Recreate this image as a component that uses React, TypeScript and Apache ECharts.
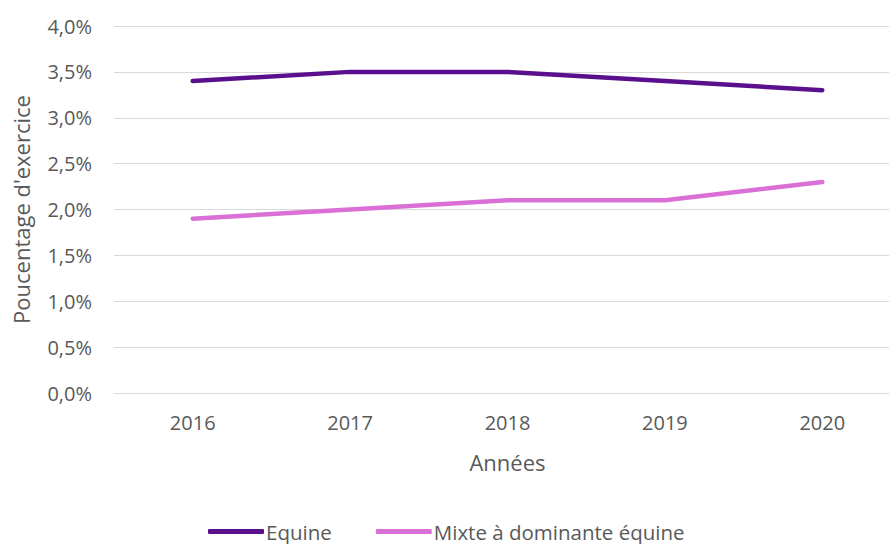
import React, { useEffect, useRef } from "react";
import * as echarts from "echarts";

const years = ["2016", "2017", "2018", "2019", "2020"];
const equine = [3.4, 3.5, 3.5, 3.4, 3.3];
const mixte = [1.9, 2.0, 2.1, 2.1, 2.3];
const seriesNames = ["Equine", "Mixte à dominante équine"];

const FONT = "Open Sans";
const TXT = "#595959";

export default function App() {
  const ref = useRef<HTMLDivElement>(null);
  useEffect(() => {
    if (!ref.current) return;
    const chart = echarts.init(ref.current, null, { renderer: "svg" });
    chart.setOption({
      animation: false,
      textStyle: { fontFamily: FONT },
      grid: {
        left: 114,
        right: -12,
        top: 26,
        bottom: 151,
        containLabel: false,
        outerBoundsMode: "none",
      },
      legend: {
        bottom: -3,
        left: 203,
        icon: "roundRect",
        itemWidth: 56,
        itemHeight: 5,
        itemGap: 44,
        textStyle: { fontFamily: FONT, fontSize: 20.5, color: TXT, padding: [0, 0, 0, -3] },
        data: seriesNames,
      },
      xAxis: {
        type: "category",
        data: years,
        boundaryGap: true,
        name: "Années",
        nameLocation: "middle",
        nameGap: 58,
        nameTextStyle: { fontFamily: FONT, fontSize: 22, color: TXT },
        axisLine: { show: true, lineStyle: { color: "#d9d9d9", width: 1 } },
        axisTick: { show: false },
        axisLabel: { fontFamily: FONT, fontSize: 20, color: TXT, margin: 19 },
      },
      yAxis: {
        type: "value",
        min: 0,
        max: 4,
        interval: 0.5,
        name: "Poucentage d'exercice",
        nameLocation: "middle",
        nameGap: 82,
        nameTextStyle: { fontFamily: FONT, fontSize: 22, color: TXT },
        axisLine: { show: false },
        axisTick: { show: false },
        axisLabel: {
          fontFamily: FONT,
          fontSize: 20,
          color: TXT,
          margin: 22,
          formatter: (v: number) => v.toFixed(1).replace(".", ",") + "%",
        },
        splitLine: { lineStyle: { color: "#d9d9d9", width: 1 } },
      },
      series: [
        {
          name: seriesNames[0],
          type: "line",
          data: equine,
          symbol: "none",
          lineStyle: { color: "#5a0f8c", width: 4.5, cap: "round" },
          itemStyle: { color: "#5a0f8c" },
        },
        {
          name: seriesNames[1],
          type: "line",
          data: mixte,
          symbol: "none",
          lineStyle: { color: "#da70d6", width: 4.5, cap: "round" },
          itemStyle: { color: "#da70d6" },
        },
      ],
    });
    return () => chart.dispose();
  }, []);
  return (
    <div
      ref={ref}
      style={{ position: "fixed", left: 0, top: 0, width: 889, height: 544, background: "#fff" }}
    />
  );
}
